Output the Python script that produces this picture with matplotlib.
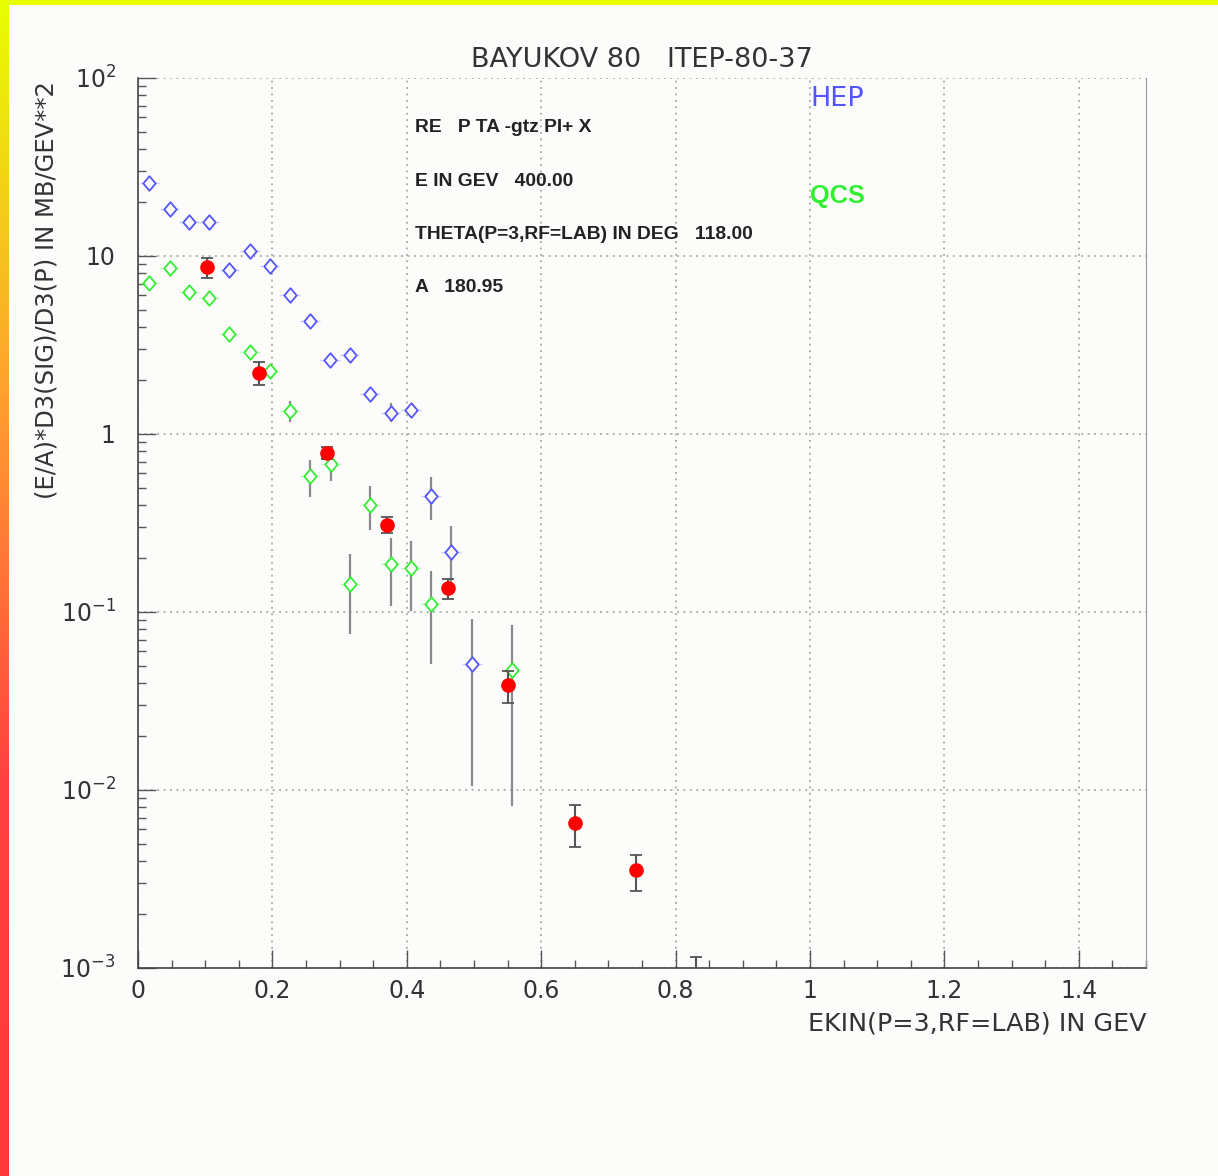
import numpy as np
import matplotlib
matplotlib.use("Agg")
import matplotlib.pyplot as plt
from matplotlib.ticker import FixedLocator, FixedFormatter, LogLocator, NullFormatter
from matplotlib.path import Path

plt.rcParams['font.family'] = ['DejaVu Sans']
plt.rcParams['mathtext.fontset'] = 'dejavusans'

# ---- data ----
hep_x = [0.017, 0.047, 0.076, 0.106, 0.136, 0.167, 0.196, 0.226, 0.256, 0.286,
         0.315, 0.345, 0.376, 0.406, 0.436, 0.466, 0.497]
hep_y = [25.7, 18.4, 15.5, 15.5, 8.38, 10.7, 8.75, 6.02, 4.33, 2.59,
         2.77, 1.68, 1.32, 1.37, 0.450, 0.217, 0.0510]
hep_lo = [25.0, 17.9, 15.1, 15.1, 8.1, 10.4, 8.5, 5.8, 4.15, 2.48,
          2.65, 1.58, 1.17, 1.27, 0.330, 0.146, 0.01057]
hep_hi = [26.4, 18.9, 15.9, 15.9, 8.65, 11.0, 9.0, 6.25, 4.5, 2.7,
          2.9, 1.78, 1.50, 1.47, 0.573, 0.303, 0.0917]

qcs_x = [0.017, 0.047, 0.076, 0.106, 0.136, 0.167, 0.196, 0.226, 0.256, 0.287,
         0.3155, 0.345, 0.376, 0.406, 0.436, 0.556]
qcs_y = [7.05, 8.56, 6.25, 5.81, 3.66, 2.90, 2.25, 1.34, 0.578, 0.681,
         0.144, 0.401, 0.187, 0.177, 0.111, 0.0474]
qcs_lo = [6.85, 8.3, 6.05, 5.62, 3.52, 2.78, 2.14, 1.17, 0.443, 0.544,
          0.0752, 0.288, 0.1085, 0.1017, 0.0512, 0.0081]
qcs_hi = [7.25, 8.8, 6.45, 6.0, 3.8, 3.02, 2.36, 1.53, 0.714, 0.733,
          0.212, 0.512, 0.260, 0.2515, 0.1706, 0.0849]

exp_x = [0.102, 0.1805, 0.2808, 0.371, 0.4618, 0.551, 0.650, 0.741, 0.830]
exp_y = [8.64, 2.20, 0.782, 0.309, 0.136, 0.0388, 0.00653, 0.00354, 0.0007]
exp_lo = [7.52, 1.89, 0.724, 0.278, 0.118, 0.0307, 0.00477, 0.0027, 0.0005]
exp_hi = [9.74, 2.54, 0.842, 0.342, 0.153, 0.0468, 0.0082, 0.00431, 0.00115]

title = "BAYUKOV 80   ITEP-80-37"
xlabel = "EKIN(P=3,RF=LAB) IN GEV"
ylabel = "(E/A)*D3(SIG)/D3(P) IN MB/GEV**2"
info_lines = ["RE   P TA -gtz PI+ X", "E IN GEV   400.00",
              "THETA(P=3,RF=LAB) IN DEG   118.00", "A   180.95"]
x_ticks = [0, 0.2, 0.4, 0.6, 0.8, 1.0, 1.2, 1.4]
x_ticklabels = ["0", "0.2", "0.4", "0.6", "0.8", "1", "1.2", "1.4"]
y_ticks = [1e-3, 1e-2, 1e-1, 1, 10, 100]
y_ticklabels = ["$10^{-3}$", "$10^{-2}$", "$10^{-1}$", "1", "10", "$10^{2}$"]

BG = '#fcfdfa'
BLUE = '#5555ff'
GREEN = '#33ee33'
TXT = '#333333'

W, H = 1218, 1176
fig = plt.figure(figsize=(W / 100, H / 100), dpi=100, facecolor=BG)

# border gradient
top = fig.add_axes([0, 1 - 5 / H, 1, 5 / H])
top.set_axis_off()
top.imshow([[1]], cmap=matplotlib.colors.ListedColormap(['#e8ff00']), aspect='auto')
left = fig.add_axes([0, 0, 9 / W, 1])
left.set_axis_off()
grad = np.linspace(0, 1, 256).reshape(-1, 1)
cm = matplotlib.colors.LinearSegmentedColormap.from_list('g', ['#e8ff00', '#ffa030', '#ff4040', '#ff3838'])
left.imshow(grad, cmap=cm, aspect='auto')

L, R, T, B = 138, 1146, 78, 968
ax = fig.add_axes([L / W, 1 - B / H, (R - L) / W, (B - T) / H])
ax.set_facecolor(BG)
ax.set_yscale('log')
ax.set_xlim(0, 1.5)
ax.set_ylim(1e-3, 1e2)

dmk = Path([(0, 1), (0.85, 0), (0, -1), (-0.85, 0), (0, 1)],
           [Path.MOVETO, Path.LINETO, Path.LINETO, Path.LINETO, Path.CLOSEPOLY])

def yerr(y, lo, hi):
    y = np.array(y); return [y - np.array(lo), np.array(hi) - y]

for xs, ys, lo, hi, col, light in [(hep_x, hep_y, hep_lo, hep_hi, BLUE, '#c8c8ff'),
                                   (qcs_x, qcs_y, qcs_lo, qcs_hi, GREEN, '#bff5bf')]:
    ax.errorbar(xs, ys, xerr=0.0145, fmt='none', ecolor=light, elinewidth=1.0, zorder=2)
    ax.errorbar(xs, ys, yerr=yerr(ys, lo, hi), fmt='none', ecolor='#8a8a8a',
                elinewidth=1.6, zorder=2)
    ax.plot(xs, ys, linestyle='none', marker=dmk, markersize=10.5, markeredgewidth=1.3,
            markeredgecolor=col, markerfacecolor=BG, zorder=3)

ax.errorbar(exp_x, exp_y, yerr=yerr(exp_y, exp_lo, exp_hi), fmt='o', color='#ff0000',
            markersize=9.5, ecolor='#555555', elinewidth=1.5, capsize=4.5, capthick=1.3,
            zorder=4)

ax.xaxis.set_major_locator(FixedLocator(x_ticks))
ax.xaxis.set_major_formatter(FixedFormatter(x_ticklabels))
ax.xaxis.set_minor_locator(FixedLocator(np.arange(0, 1.501, 0.05)))
ax.yaxis.set_major_locator(FixedLocator(y_ticks))
ax.yaxis.set_major_formatter(FixedFormatter(y_ticklabels))
ax.yaxis.set_minor_locator(LogLocator(base=10, subs=np.arange(2, 10), numticks=20))
ax.yaxis.set_minor_formatter(NullFormatter())

ax.tick_params(which='both', direction='in', colors='#555555', labelcolor=TXT,
               labelsize=17, top=False, right=False)
ax.tick_params(which='major', length=13, width=1)
ax.tick_params(which='minor', length=6, width=1)
ax.tick_params(axis='x', pad=8)
ax.tick_params(axis='y', pad=16)

ax.grid(True, which='major', linestyle=(0, (1.2, 3)), color='#999999', linewidth=1.1)
for s in ['left', 'bottom']:
    ax.spines[s].set_color('#444444'); ax.spines[s].set_linewidth(1.2)
ax.spines['right'].set_color('#999999')
ax.spines['top'].set_visible(False)

fig.text(642 / W, 1 - 60 / H, title, ha='center', va='center', fontsize=19.5, color=TXT)
fig.text(R / W, 1 - 1023 / H, xlabel, ha='right', va='center', fontsize=18.3, color=TXT)
fig.text(47 / W, 1 - 290 / H, ylabel, ha='center', va='center', rotation=90,
         fontsize=17.5, color=TXT)
for i, t in enumerate(info_lines):
    fig.text(415 / W, 1 - (128 + 53.3 * i) / H, t, ha='left', va='center',
             fontsize=13.9, color='#222222', fontweight='bold',
             family=['Liberation Sans', 'DejaVu Sans'])
fig.text(810 / W, 1 - 99 / H, "HEP", ha='left', va='center', fontsize=19.5, color=BLUE)
fig.text(810 / W, 1 - 196 / H, "QCS", ha='left', va='center', fontsize=18.3, color=GREEN,
         fontweight='bold', family=['Liberation Sans', 'DejaVu Sans'])

fig.savefig('out.png', dpi=100, facecolor=BG)
